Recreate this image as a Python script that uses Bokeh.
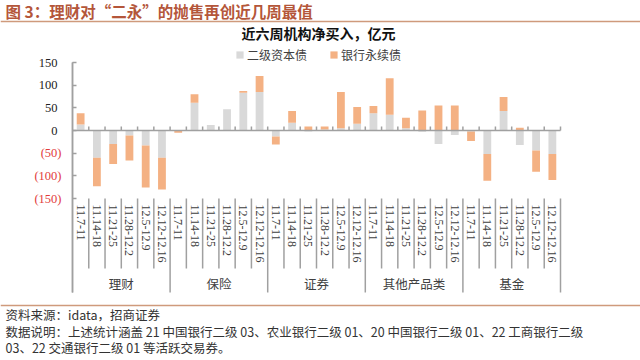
import math
from bokeh.plotting import figure
from bokeh.models import (Range1d, FixedTicker, LinearAxis, Legend, LegendItem)
from bokeh.core.properties import value
from bokeh.embed import file_html
from bokeh.resources import INLINE

# ---------------- data ----------------
groups = ["理财", "保险", "证券", "其他产品类", "基金"]
weeks = ["11.7-11", "11.14-18", "11.21-25", "11.28-12.2", "12.5-12.9", "12.12-12.16"]
tier2 = [13, -60, -30, -11, -33, -60,
         -1, 61, 12, 47, 83, 85,
         -13, 17, -2, 2, 5, 15,
         38, 35, 5, -3, -30, -10,
         -2, -52, 43, -32, -44, -52]
perp = [25, -63, -44, -55, -93, -70,
        -4, 19, 0, 0, 4, 35,
        -18, 26, 9, 7, 80, 37,
        16, 80, 23, 44, 55, 55,
        -21, -59, 31, 6, -47, -57]
pos_ticks = [0, 50, 100, 150]
pos_labels = ["0", "50", "100", "150"]
neg_ticks = [-150, -100, -50]
neg_labels = ["(150)", "(100)", "(50)"]

title_text = "图 3：理财对“二永”的抛售再创近几周最值"
subtitle_text = "近六周机构净买入，亿元"
legend_labels = ["二级资本债", "银行永续债"]
footer_lines = [
    "资料来源：idata，招商证券",
    "数据说明：上述统计涵盖 21 中国银行二级 03、农业银行二级 01、20 中国银行二级 01、22 工商银行二级",
    "03、22 交通银行二级 01 等活跃交易券。",
]

# ---------------- styles / geometry ----------------
GRAY = "#d9d9d9"
ORANGE = "#f4b183"
AXIS = "#a0a0a0"
TXT = "#404040"
RED = "#e23b3b"
BROWN = "#b4563a"
RULE = "#cf9a7c"
CJK = "Noto Sans CJK SC"
SERIF = "Liberation Serif"

W, H = 640, 360
n_w = len(weeks)
n = len(tier2)
XPX = 488.0 / n          # pixels per category
UPP = 300.0 / 136.0      # data units per pixel (vertical)


def X(px):
    return (px - 72) / XPX


def Y(py):
    return (198 - py) * UPP - 150


Y_LOW = Y(292)   # bottom of group separators / axis line

p = figure(width=W, height=H, output_backend="svg", toolbar_location=None,
           x_range=Range1d(X(0), X(W)), y_range=Range1d(Y(H), Y(0)),
           min_border_left=0, min_border_right=0, min_border_top=0, min_border_bottom=0,
           background_fill_color="white", border_fill_color="white")
p.outline_line_color = None
p.xgrid.visible = False
p.ygrid.visible = False
p.xaxis.visible = False


def style_axis(ax, standoff, color):
    ax.fixed_location = 0
    ax.bounds = (Y_LOW, 150)
    ax.major_tick_in = 4
    ax.major_tick_out = 0
    ax.minor_tick_line_color = None
    ax.axis_line_color = AXIS
    ax.axis_line_width = 1.5
    ax.major_tick_line_color = AXIS
    ax.major_tick_line_width = 1.5
    ax.major_label_standoff = standoff
    ax.major_label_text_font = SERIF
    ax.major_label_text_font_size = "12.5px"
    ax.major_label_text_color = color


yax = p.yaxis[0]
yax.ticker = FixedTicker(ticks=pos_ticks)
yax.major_label_overrides = dict(zip(pos_ticks, pos_labels))
style_axis(yax, 15, "#222222")

yneg = LinearAxis(ticker=FixedTicker(ticks=neg_ticks),
                  major_label_overrides=dict(zip(neg_ticks, neg_labels)))
style_axis(yneg, 11, RED)
p.add_layout(yneg, "left")

xs = [i + 0.5 for i in range(n)]
g_bot = [0] * n
g_top = tier2
o_bot = [tier2[i] if tier2[i] * perp[i] > 0 else 0 for i in range(n)]
o_top = [o_bot[i] + perp[i] for i in range(n)]

# ticks on zero line at category boundaries
bounds = list(range(1, n + 1))
p.segment(x0=bounds, y0=[0] * n, x1=bounds, y1=[4 * UPP] * n, line_color=AXIS, line_width=1.5)

r_g = p.vbar(x=xs, bottom=g_bot, top=g_top, width=0.48, fill_color=GRAY, line_color=None)
r_o = p.vbar(x=xs, bottom=o_bot, top=o_top, width=0.48, fill_color=ORANGE, line_color=None)

# zero line
p.segment(x0=[0], y0=[0], x1=[n], y1=[0], line_color=AXIS, line_width=1.5)

# category separators below chart
all_b = list(range(1, n + 1))
low = [Y(268) if b % n_w else Y_LOW for b in all_b]
p.segment(x0=all_b, y0=[-150] * len(all_b), x1=all_b, y1=low, line_color=AXIS, line_width=1.5)

# week labels (rotated)
p.text(x=xs, y=[Y(204)] * n, text=weeks * len(groups), angle=-math.pi / 2,
       text_align="left", text_baseline="middle", text_font=value(SERIF),
       text_font_size="12px", text_color=TXT)
# group labels
p.text(x=[g * n_w + n_w / 2 for g in range(len(groups))], y=[Y(283)] * len(groups),
       text=groups, text_align="center", text_baseline="middle", text_font=value(CJK),
       text_font_size="12.5px", text_color=TXT)

# legend
legend = Legend(items=[LegendItem(label=legend_labels[0], renderers=[r_g]),
                       LegendItem(label=legend_labels[1], renderers=[r_o])],
                location=(235, H - 63), orientation="horizontal", padding=0, margin=0,
                spacing=22, glyph_width=9, glyph_height=9, label_standoff=3,
                label_text_font=CJK, label_text_font_size="12px", label_text_color=TXT,
                background_fill_alpha=0, border_line_color=None)
p.add_layout(legend)

# title, subtitle, rules, footer
p.text(x=[X(5)], y=[Y(10)], text=[title_text], text_align="left", text_baseline="middle",
       text_font=value(CJK), text_font_size="15.5px", text_font_style="bold", text_color=BROWN)
p.segment(x0=[X(0)], y0=[Y(21)], x1=[X(W)], y1=[Y(21)], line_color=RULE, line_width=1.5)
p.text(x=[X(318)], y=[Y(32)], text=[subtitle_text], text_align="center", text_baseline="middle",
       text_font=value(CJK), text_font_size="14px", text_font_style="bold", text_color="#111111")
p.segment(x0=[X(0)], y0=[Y(305)], x1=[X(W)], y1=[Y(305)], line_color=RULE, line_width=1.5)
p.text(x=[X(5)] * len(footer_lines), y=[Y(314 + 16.5 * k) for k in range(len(footer_lines))],
       text=footer_lines, text_align="left", text_baseline="middle", text_font=value(CJK),
       text_font_size="12.5px", text_color="#333333")

open("out.html", "w").write(file_html(p, INLINE))
